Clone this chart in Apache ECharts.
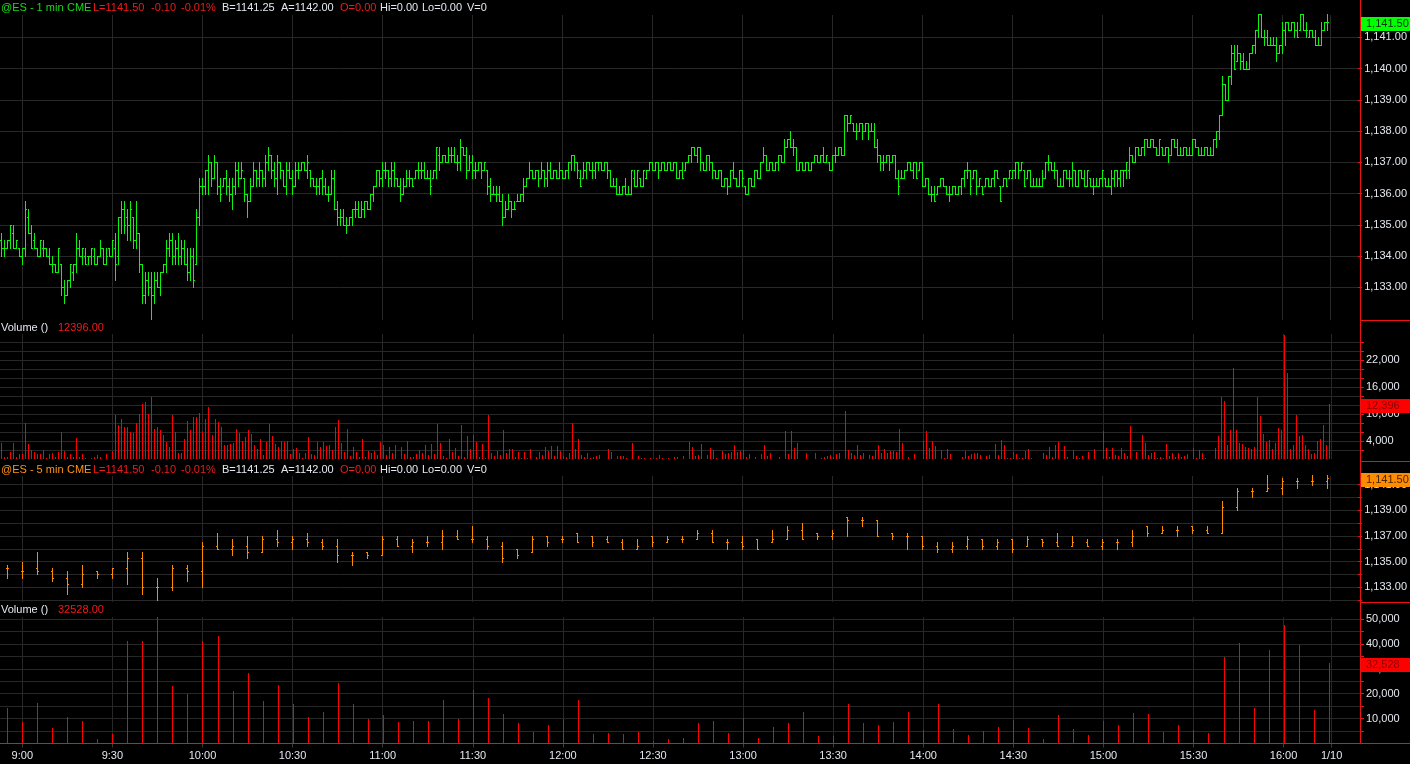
<!DOCTYPE html>
<html>
<head>
<meta charset="utf-8">
<title>@ES 1 min / 5 min</title>
<script src="https://cdn.jsdelivr.net/npm/echarts@6.0.0/dist/echarts.min.js"></script>
<style>
html, body { margin: 0; padding: 0; background: #000; }
#chart { width: 1410px; height: 764px; }
</style>
</head>
<body>
<div id="chart"></div>
<script>
// prices below are quarter-point ticks above 1130.00 (1 tick = 0.25)
var PRICE_BASE = 1130, TICK = 0.25;

// ---- 1 min bars, first bar 8:53, one per minute ----
var firstMinute1 = 533;
var hi1 = [19,18,18,20,20,18,17,17,23,22, 20,19,17,18,18,17,17,16,15,17, 15,13,13,15,15,19,18,17,17,16, 17,17,16,18,17,17,17,18,19,21,
  23,23,22,23,21,23,19,15,14,14, 14,14,14,14,15,18,19,19,18,19, 18,18,17,17,17,22,26,26,27,29, 28,29,28,26,26,27,26,26,28,28,
  28,26,24,26,28,27,28,27,29,30, 29,28,29,28,27,28,28,27,28,28, 28,28,29,27,26,26,26,27,26,25, 27,27,23,22,22,21,21,22,23,23,
  23,23,23,24,25,27,27,28,28,27, 28,28,26,26,26,27,27,26,27,28, 28,28,27,27,27,30,30,29,29,30, 30,30,29,31,30,30,29,29,28,28,
  28,28,27,26,25,25,25,24,23,24, 23,23,24,24,26,26,28,27,27,27, 28,27,28,28,27,27,28,27,27,28, 29,29,28,27,28,28,28,28,28,28,
  28,28,28,27,26,26,25,25,26,25, 27,27,27,26,27,27,28,28,28,28, 28,28,28,28,28,28,27,28,28,29, 30,30,30,30,28,29,29,28,27,27,
  27,26,26,27,28,26,27,27,25,26, 26,27,27,28,30,29,28,28,28,29, 29,31,31,32,31,30,28,28,28,28, 28,29,29,29,30,29,28,29,30,30,
  30,34,34,34,33,33,33,33,33,33, 33,33,31,29,29,29,29,29,29,27, 27,27,28,28,28,28,28,28,26,26, 25,25,25,26,26,25,25,25,25,25,
  26,27,28,27,27,27,26,25,26,26, 26,27,27,25,26,26,27,27,28,28, 28,27,27,27,26,26,26,27,28,29, 28,28,27,26,27,27,27,28,27,27,
  27,27,27,26,26,26,26,27,26,26, 27,27,27,27,27,28,30,29,30,30, 30,31,31,31,31,30,31,30,30,30, 31,31,31,30,30,30,30,31,31,30,
  30,30,30,30,31,32,34,39,38,39, 43,43,43,42,42,41,42,43,45,47, 47,45,45,44,44,44,43,46,46,46, 46,46,46,47,47,46,45,45,45,44,
  46,46,47];
var lo1 = [16,16,17,17,17,17,16,15,16,19, 17,17,16,16,16,16,15,14,14,14, 11,10,11,12,13,14,16,15,15,15, 15,15,15,16,15,15,16,16,13,15,
  19,19,18,18,17,17,14,10,10,11, 8,10,12,11,14,14,16,15,15,15, 15,15,13,13,12,15,20,24,24,24, 25,26,24,23,25,24,23,22,24,25,
  26,23,21,23,25,25,25,25,25,27, 26,25,24,26,25,24,26,24,25,26, 27,27,26,25,25,24,24,24,24,23, 24,22,20,20,20,19,20,20,21,21,
  21,21,22,22,23,25,25,25,26,25, 25,25,25,23,24,25,25,25,26,26, 26,26,26,24,26,26,27,28,28,28, 28,28,27,27,29,26,27,26,26,27,
  26,27,24,23,24,23,23,20,21,22, 21,22,23,23,23,25,26,26,26,25, 26,25,25,26,26,26,26,26,26,26, 27,27,26,25,26,26,27,26,26,27,
  27,27,26,25,25,24,24,24,24,24, 24,25,25,25,25,26,27,27,27,26, 27,27,27,27,27,26,26,26,27,28, 28,29,28,27,27,27,27,26,26,26,
  25,25,24,25,26,25,25,25,24,24, 25,25,26,26,28,27,27,27,27,27, 28,28,30,30,29,27,27,27,27,27, 27,28,28,28,28,28,27,27,28,29,
  29,29,32,33,32,31,32,31,32,31, 32,30,28,27,27,28,27,28,26,24, 26,26,27,27,26,26,27,25,25,24, 23,23,24,25,25,24,23,24,24,24,
  24,25,26,24,26,24,25,24,25,25, 25,25,26,23,25,25,26,26,26,26, 27,25,26,25,25,25,25,25,26,27, 27,26,25,25,25,26,25,25,25,25,
  26,25,25,25,24,25,25,25,25,25, 24,25,25,25,25,26,26,28,28,29, 29,29,30,30,30,29,29,29,29,28, 29,30,29,29,29,29,29,29,30,29,
  29,29,29,29,29,30,31,34,36,36, 38,40,41,40,40,40,40,42,42,44, 44,43,43,43,43,41,42,42,43,45, 45,44,44,45,45,44,44,44,43,43,
  43,45,45];
var open1 = [18,17,17,18,19,17,17,16,17,21, 19,18,17,16,17,17,16,15,15,14, 15,12,11,13,14,15,17,16,16,16, 16,16,15,16,17,15,17,16,17,16,
  21,22,21,20,21,18,19,15,11,13, 12,11,13,12,14,15,17,18,16,17, 16,17,15,14,16,15,21,25,25,27, 28,26,28,25,25,26,25,24,25,27,
  26,26,24,23,25,27,26,27,26,28, 29,27,26,28,27,25,27,26,25,27, 27,28,27,27,26,25,25,26,25,24, 24,26,22,21,21,20,20,21,22,22,
  21,22,23,22,24,25,27,26,27,27, 26,27,26,25,24,25,26,26,26,27, 27,27,26,26,26,27,29,28,29,28, 29,29,28,28,30,29,27,28,27,27,
  28,27,27,25,24,24,24,23,21,22, 23,22,23,23,24,25,26,27,26,27, 26,27,26,27,26,27,26,27,26,27, 28,29,28,26,26,27,28,27,27,28,
  28,27,28,27,25,25,24,24,25,24, 24,26,25,26,25,26,27,28,27,28, 27,28,27,28,27,28,26,27,27,28, 29,30,29,30,28,27,29,28,27,26,
  27,25,26,25,27,26,25,27,25,24, 26,25,27,26,28,29,27,28,27,28, 29,28,30,31,30,30,27,28,27,28, 27,28,29,28,29,28,28,27,29,29,
  30,29,34,33,33,32,32,33,32,33, 32,32,30,29,28,28,29,28,29,26, 26,26,27,28,27,28,27,28,25,26, 24,24,24,25,26,25,24,24,25,24,
  25,26,27,27,26,27,25,25,25,26, 25,26,27,25,25,26,26,26,27,28, 27,27,26,27,25,25,25,25,26,28, 28,27,27,25,25,27,26,26,27,25,
  27,26,25,26,25,25,25,26,26,25, 25,26,27,26,27,27,27,29,28,30, 29,30,31,30,31,30,29,30,29,30, 29,31,30,29,29,30,29,29,31,30,
  29,29,30,29,29,31,32,34,38,36, 39,42,41,42,41,40,40,42,43,45, 47,44,44,43,43,43,42,43,45,46, 45,46,45,45,47,45,44,45,44,43,
  43,45,46];
var close1 = [17,17,18,20,17,18,16,17,22,19, 17,17,16,18,17,16,15,15,14,17, 12,11,13,15,15,17,16,17,15,16, 17,15,16,17,15,16,16,18,15,21,
  22,20,20,22,18,19,15,11,13,12, 11,13,12,14,15,17,18,16,17,16, 17,15,14,16,13,21,25,25,27,28, 26,28,25,24,26,25,24,25,27,26,
  27,24,23,25,27,26,27,26,28,29, 27,26,28,27,25,27,26,25,27,27, 28,27,28,26,25,25,26,25,24,24, 26,22,21,21,20,20,21,22,22,21,
  22,23,22,24,25,27,26,27,27,26, 27,26,25,24,25,26,26,25,27,27, 27,26,26,25,27,30,28,29,28,29, 29,28,28,30,29,27,28,27,27,28,
  27,28,25,24,24,24,23,21,22,23, 22,22,23,24,25,26,27,26,27,26, 27,26,27,26,27,26,27,26,27,28, 29,28,27,25,27,28,27,27,28,28,
  27,28,27,25,25,24,24,25,24,24, 27,25,27,25,27,27,28,27,28,27, 28,27,28,27,28,26,27,26,28,29, 30,29,30,28,27,29,28,27,26,27,
  25,26,25,27,26,25,27,26,24,26, 25,27,26,28,29,27,28,27,28,29, 28,30,31,30,30,27,28,27,28,27, 28,29,28,29,28,29,27,29,29,30,
  29,34,33,34,32,32,33,32,33,32, 32,30,29,28,28,29,28,29,26,25, 26,27,28,27,28,26,28,25,26,24, 24,23,25,26,25,24,24,25,24,25,
  26,27,27,25,27,25,26,24,26,25, 26,27,26,23,26,25,27,27,28,27, 28,25,27,25,25,25,25,26,28,28, 27,27,25,25,27,26,26,27,25,27,
  26,25,27,25,25,25,26,27,25,25, 26,27,26,27,27,28,29,28,30,29, 30,31,30,31,30,29,31,29,30,29, 31,30,29,29,30,29,29,31,30,29,
  29,30,29,29,31,32,34,38,36,39, 42,40,42,41,40,40,42,43,45,47, 44,44,43,43,43,42,43,45,46,45, 46,45,44,47,45,45,45,44,43,43,
  45,46,46];
var vol1 = [3700,600,600,1700,3700,600,1100,1100,8100,3400, 2100,1600,1100,1100,2100,200,1100,1400,600,1700,
  6100,1900,400,1100,600,4700,400,1100,200,100, 200,600,900,600,100,1100,100,1900,9900,7600,
  9000,7200,7200,6100,5900,8100,10100,12200,12700,10100, 13900,6700,7200,6500,5400,3800,2700,9900,6100,1300,
  1300,4400,8500,6400,9400,9500,10200,6300,9000,11600, 5400,9000,8300,7200,3200,3200,3400,3600,6700,5900,
  4100,5000,6500,5600,3200,2300,4500,1000,3900,7900, 5200,3400,2700,4100,3900,4100,1200,2300,2500,1400,
  300,1400,5000,1200,1000,3900,2700,3900,3000,3200, 2100,7200,8700,3600,1600,6700,700,2700,1600,500,
  4500,500,1900,1400,1900,1000,3900,3200,1000,2700, 1400,3200,100,2700,1200,4100,500,500,1200,2100,
  1400,3200,1000,3400,1200,7900,3600,700,300,4500, 1600,2500,700,7600,500,5200,2300,5400,3900,500,
  3400,300,9900,1400,700,1900,1000,6500,1400,2300, 2300,500,1600,300,1600,300,2300,100,500,1600,
  1000,2700,1900,3000,700,3000,1900,700,500,1400, 8100,2300,4500,1000,500,1400,300,500,700,1000,
  100,100,2300,1600,100,700,700,700,300,100, 3600,100,700,300,300,100,300,100,300,1000,
  300,100,300,100,500,500,100,700,100,3900, 2700,700,1000,3400,100,1000,2500,2100,300,100,
  1900,1200,1400,1600,3200,1600,1900,2100,500,1200, 100,500,100,1200,3200,700,1400,100,100,500,
  100,6300,1200,6300,2500,3600,100,100,1400,100, 100,1400,100,300,500,700,1000,500,1200,1400,
  100,10700,2100,1400,1000,3200,1000,1400,100,1000, 700,2100,3200,1400,2300,1400,1900,1900,1600,6700,
  3600,100,500,100,1200,100,100,4100,6300,2500, 4100,3000,100,2100,300,2300,1200,100,100,100,
  500,1900,700,1200,1400,1400,1000,100,700,1000, 100,3400,1000,4300,3200,200,200,1600,1200,200,
  200,1900,2300,200,50,50,50,1400,1000,2700, 500,3200,3900,50,3000,500,50,2100,700,300,
  700,50,1600,50,2300,50,50,6300,2500,500, 2500,1000,700,2500,1400,700,7400,50,1600,50,
  5400,3600,1000,1400,1600,300,500,300,3400,700, 1400,500,1400,500,700,1200,50,2500,300,2100,
  1400,300,50,50,2500,5200,13900,13000,3200,6500, 20300,6500,3600,3400,2700,2500,2300,2700,13900,9600,
  5600,3900,4300,2300,3600,7000,6500,27600,19200,2300, 3200,9900,5200,5400,3200,2300,1200,1400,4100,4500,
  7600,3200,12396];

// ---- 5 min bars, first bar 8:55 ----
var firstMinute5 = 535;
var hi5 = [19,20,23,18,17,19,17,18,23,23, 15,19,19,26,29,27,28,28,30,28, 29,27,27,23,23,28,28,27,28,30,
  30,31,28,26,24,28,28,28,29,28, 28,27,27,28,28,28,30,30,27,28, 27,30,31,32,29,30,34,34,33,29,
  29,28,26,26,28,27,27,27,28,27, 29,28,27,27,27,30,31,31,31,31, 31,39,43,43,47,46,46,47,47];
var lo5 = [15,15,16,14,10,12,15,15,13,10, 8,11,14,12,24,22,21,23,25,24, 25,24,20,19,21,22,25,23,25,24,
  27,26,24,20,21,23,25,26,26,25, 26,24,24,25,26,26,27,26,24,24, 24,26,27,27,27,27,28,31,28,27,
  24,24,23,23,24,24,24,23,25,25, 25,25,25,24,24,25,28,29,28,29, 29,29,36,40,42,41,43,44,43];
var open5 = [18,17,18,17,15,13,17,16,18,21, 12,12,18,17,25,24,25,23,27,26, 27,26,25,22,23,22,27,25,26,26,
  28,27,27,25,24,23,28,27,29,28, 27,26,24,28,26,27,27,29,26,26, 27,26,27,30,29,28,34,33,33,29,
  28,28,25,24,25,27,25,27,25,27, 26,25,26,25,26,26,31,29,30,31, 30,29,37,42,42,43,45,45,45];
var close5 = [18,17,17,15,13,16,16,18,21,12, 12,18,17,25,24,25,23,27,26,27, 26,25,22,22,22,27,25,26,26,28,
  27,27,25,21,22,27,26,27,26,26, 26,24,25,26,27,27,29,26,26,25, 24,27,30,27,28,29,33,33,28,28,
  28,25,24,25,27,25,26,24,27,26, 25,26,25,26,26,28,29,30,30,30, 29,37,42,42,43,45,45,45,46];
var vol5 = [14300,8700,16300,6400,10700,9200,1900,4000,41300,41300, 51000,23200,20000,41300,43300,20900,28400,16900,23600,15900,
  10700,12700,24400,15900,9700,11500,8700,9200,9200,17300, 9900,21300,18300,11900,8300,4600,7500,9700,17300,3800,
  4200,3800,4600,1100,1900,2200,8300,9100,4200,10300, 2200,6700,8300,12700,3000,3000,15900,8300,7500,8700,
  12700,5400,15900,5800,3400,5000,6700,9500,6200,1800, 11500,5800,3400,9100,7500,12300,11900,4600,7500,5400,
  4200,34900,40500,14300,37700,47400,39700,13500,32528];

// ---- axis ticks and labels ----
var timeTicks = [540,570,600,630,660,690,720,750,780,810,840,870,900,930,960,976];
var timeLabels = ['9:00','9:30','10:00','10:30','11:00','11:30','12:00','12:30','13:00','13:30','14:00','14:30','15:00','15:30','16:00','1/10'];
var priceLabels1 = [1133,1134,1135,1136,1137,1138,1139,1140,1141];
var volTicks1 = [2000,4000,6000,8000,10000,12000,14000,16000,18000,20000,22000,24000,26000];
var volLabels1 = [4000,10000,16000,22000];
var priceTicks5 = [1132,1133,1134,1135,1136,1137,1138,1139,1140,1141];
var priceLabels5 = [1133,1135,1137,1139,1141];
var volTicks5 = [5000,10000,15000,20000,25000,30000,35000,40000,45000,50000];
var volLabels5 = [10000,20000,30000,40000,50000];

var headerX = [1, 67, 93, 151, 181, 222, 281, 340, 380, 422, 467];
var headerKind = ['sym','sym','red','red','red','white','white','red','white','white','white'];
var header1 = ['@ES - 1 min','CME','L=1141.50','-0.10','-0.01%','B=1141.25','A=1142.00','O=0.00','Hi=0.00','Lo=0.00','V=0'];
var header5 = ['@ES - 5 min','CME','L=1141.50','-0.10','-0.01%','B=1141.25','A=1142.00','O=0.00','Hi=0.00','Lo=0.00','V=0'];

var GRID = '#282828', TEXT = '#e4e8ee', RED = '#ff0000', RED_TEXT = '#f21a1a';
var GREEN = '#0df20d', ORANGE = '#ff8a00', AXIS_RED = '#ee1111';
var FONT = '11px "Liberation Sans", Arial, sans-serif';
var AXIS_X = 1360, X_MIN = 532.57, X_MAX = 985.45;

function price(t) { return PRICE_BASE + t * TICK; }
function fmt(v, d) {
  var s = v.toFixed(d).split('.');
  s[0] = s[0].replace(/\B(?=(\d{3})+(?!\d))/g, ',');
  return s.join('.');
}

var bars1 = [], vols1 = [], bars5 = [], vols5 = [];
for (var i = 0; i < hi1.length; i++) {
  var m = firstMinute1 + i;
  bars1.push([m, price(open1[i]), price(hi1[i]), price(lo1[i]), price(close1[i])]);
  vols1.push([m, vol1[i]]);
}
for (var k = 0; k < hi5.length; k++) {
  var m5 = firstMinute5 + 5 * k;
  bars5.push([m5, price(open5[k]), price(hi5[k]), price(lo5[k]), price(close5[k])]);
  vols5.push([m5, vol5[k]]);
}

function ohlcItem(color, tickLen) {
  return function (params, api) {
    var x = api.value(0);
    var pH = api.coord([x, api.value(2)]);
    var yL = Math.round(api.coord([x, api.value(3)])[1]);
    var yO = Math.round(api.coord([x, api.value(1)])[1]);
    var yC = Math.round(api.coord([x, api.value(4)])[1]);
    var cx = Math.round(pH[0]), yH = Math.round(pH[1]);
    var st = { fill: color };
    return { type: 'group', children: [
      { type: 'rect', shape: { x: cx, y: yH, width: 1, height: yL - yH + 1 }, style: st },
      { type: 'rect', shape: { x: cx - tickLen, y: yO, width: tickLen, height: 1 }, style: st },
      { type: 'rect', shape: { x: cx + 1, y: yC, width: tickLen, height: 1 }, style: st }
    ] };
  };
}
function volItem(color) {
  return function (params, api) {
    var p = api.coord([api.value(0), api.value(1)]);
    var b = api.coord([api.value(0), 0]);
    var cx = Math.round(p[0]), yT = Math.round(p[1]);
    return { type: 'rect', shape: { x: cx, y: yT, width: 1, height: Math.round(b[1]) - yT }, style: { fill: color } };
  };
}

var grids = [
  { left: 0, right: 1410 - AXIS_X, top: 15, height: 305 },
  { left: 0, right: 1410 - AXIS_X, top: 334, height: 125.3 },
  { left: 0, right: 1410 - AXIS_X, top: 476, height: 126 },
  { left: 0, right: 1410 - AXIS_X, top: 617, height: 126.5 }
];

var xAxes = grids.map(function (g, gi) {
  return {
    type: 'value', gridIndex: gi, min: X_MIN, max: X_MAX,
    axisLine: { show: false },
    axisTick: { show: gi === 3, customValues: timeTicks, length: 4, lineStyle: { color: '#3a3a3a' } },
    axisLabel: { show: gi === 3, customValues: timeTicks, color: TEXT, fontSize: 11, fontFamily: 'Liberation Sans', margin: 7,
      formatter: function (v) { return timeLabels[timeTicks.indexOf(Math.round(v))]; } },
    splitLine: { show: true, lineStyle: { color: GRID, width: 1 } }
  };
});

function yAxis(gi, min, max, ticks, labels, digits) {
  return {
    type: 'value', gridIndex: gi, position: 'right', min: min, max: max,
    axisLine: { show: false },
    axisTick: { show: true, customValues: ticks, length: 4, lineStyle: { color: AXIS_RED } },
    axisLabel: { customValues: labels, color: TEXT, fontSize: 11, fontFamily: 'Liberation Sans', margin: 6,
      formatter: function (v) { return fmt(v, digits); } },
    splitLine: { show: true, lineStyle: { color: GRID, width: 1 } }
  };
}

var yAxes = [
  yAxis(0, 1131.954, 1141.714, priceLabels1, priceLabels1, 2),
  yAxis(1, 0, 27840, volTicks1, volLabels1, 0),
  yAxis(2, 1131.853, 1141.673, priceTicks5, priceLabels5, 2),
  yAxis(3, 0, 50800, volTicks5, volLabels5, 0)
];

function txt(id, x, y, text, color) {
  return { type: 'text', id: id, x: x, y: y, z: 100, silent: true,
    style: { text: text, fill: color, font: FONT, verticalAlign: 'middle' } };
}
function hline(id, x1, x2, y) {
  return { type: 'line', id: id, z: 90, silent: true, shape: { x1: x1, y1: y, x2: x2, y2: y }, style: { stroke: AXIS_RED, lineWidth: 1 } };
}

var graphics = [
  { type: 'line', id: 'vaxis', z: 90, silent: true, shape: { x1: AXIS_X + 0.5, y1: 0, x2: AXIS_X + 0.5, y2: 743 }, style: { stroke: AXIS_RED, lineWidth: 1 } },
  hline('sep1', AXIS_X, 1410, 320.5),
  hline('sep2', AXIS_X, 1410, 461.5),
  hline('sep3', AXIS_X, 1410, 602.5),
  hline('xaxis', 0, 1410, 743.5)
];
var kindColor1 = { sym: '#16dc16', red: RED_TEXT, white: TEXT };
var kindColor5 = { sym: '#ff9414', red: RED_TEXT, white: TEXT };
headerX.forEach(function (x, j) {
  graphics.push(txt('h1_' + j, x, 7.5, header1[j], kindColor1[headerKind[j]]));
  graphics.push(txt('h5_' + j, x, 469.5, header5[j], kindColor5[headerKind[j]]));
});
graphics.push(txt('v1a', 1, 328, 'Volume ()', TEXT));
graphics.push(txt('v1b', 58, 328, fmt(vol1[vol1.length - 1], 2).replace(/,/g, ''), RED_TEXT));
graphics.push(txt('v5a', 1, 610, 'Volume ()', TEXT));
graphics.push(txt('v5b', 58, 610, fmt(vol5[vol5.length - 1], 2).replace(/,/g, ''), RED_TEXT));

var chart = echarts.init(document.getElementById('chart'));
chart.setOption({
  backgroundColor: '#000000',
  animation: false,
  grid: grids,
  xAxis: xAxes,
  yAxis: yAxes,
  series: [
    { type: 'custom', xAxisIndex: 0, yAxisIndex: 0, renderItem: ohlcItem(GREEN, 1), data: bars1, encode: { x: 0, y: [1, 2, 3, 4] }, silent: true },
    { type: 'custom', xAxisIndex: 1, yAxisIndex: 1, renderItem: volItem(RED), data: vols1, encode: { x: 0, y: 1 }, silent: true },
    { type: 'custom', xAxisIndex: 2, yAxisIndex: 2, renderItem: ohlcItem(ORANGE, 1), data: bars5, encode: { x: 0, y: [1, 2, 3, 4] }, silent: true },
    { type: 'custom', xAxisIndex: 3, yAxisIndex: 3, renderItem: volItem(RED), data: vols5, encode: { x: 0, y: 1 }, silent: true }
  ],
  graphic: graphics
});

// last-value tags on the right axis
function tag(id, axisIndex, value, text, bg, fg) {
  var y = Math.round(chart.convertToPixel({ yAxisIndex: axisIndex }, value)) + 2;
  return [
    { type: 'rect', id: id + 'r', z: 110, silent: true, shape: { x: AXIS_X + 1, y: y - 7, width: 1410 - AXIS_X - 1, height: 14 }, style: { fill: bg } },
    { type: 'text', id: id + 't', z: 111, silent: true, x: AXIS_X + 6, y: y, style: { text: text, fill: fg, font: FONT, verticalAlign: 'middle' } }
  ];
}
var last1 = price(close1[close1.length - 1]);
var last5 = price(close5[close5.length - 1]);
var lv1 = vol1[vol1.length - 1], lv5 = vol5[vol5.length - 1];
chart.setOption({
  graphic: graphics
    .concat(tag('tag1', 0, last1, fmt(last1, 2), '#00ff00', '#063006'))
    .concat(tag('tag2', 1, lv1, fmt(lv1, 0), '#ff0000', '#8a0000'))
    .concat(tag('tag3', 2, last5, fmt(last5, 2), '#ff8c00', '#4a2400'))
    .concat(tag('tag4', 3, lv5, fmt(lv5, 0), '#ff0000', '#8a0000'))
});
</script>
</body>
</html>
